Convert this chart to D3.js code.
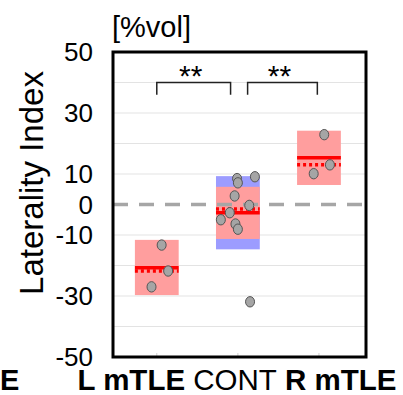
<!DOCTYPE html>
<html>
<head>
<meta charset="utf-8">
<script src="https://cdn.jsdelivr.net/npm/d3@7"></script>
<style>
  body { margin: 0; background: #fff; }
  text { font-family: "Liberation Sans", Arial, sans-serif; }
</style>
</head>
<body>
<svg id="chart"></svg>
<script>
// group names and label weights
const categories = ['L mTLE', 'CONT', 'R mTLE'];
const boldLabel = [true, false, true];

// individual laterality index values [%vol]
const lValues = [-13.3, -21.8, -27.0];
const contValues = [8.5, 7.1, 9.1, 2.8, -0.3, -2.7, -5.0, -6.4, -8.1, -31.9];
const rValues = [22.9, 13.0, 10.1];
// horizontal scatter of the dots, in category units
const lJitter = [0.06, 0.14, -0.065];
const contJitter = [-0.01, 0.0, 0.21, -0.04, 0.14, -0.10, -0.21, -0.03, 0.0, 0.15];
const rJitter = [0.065, 0.135, -0.065];

// shaded ranges
const redHigh = [-11.6, 5.8, 24.2];
const redLow = [-29.7, -11.3, 6.4];
const blueHigh = [null, 9.3, null];
const blueLow = [null, -14.7, null];

// y axis
const yTicks = [50, 30, 10, 0, -10, -30, -50];
const yGrid = [40, 30, 20, 10, -10, -20, -30, -40];

// significance brackets: [from, to]
const brackets = [[1, 1.91], [2.12, 2.98]];
const bracketLabels = ['**', '**'];

const W = 403, H = 395;
const margin = {top: 52, right: 37, bottom: 38, left: 113};

const svg = d3.select('#chart').attr('width', W).attr('height', H);

const x = d3.scaleLinear().domain([0.46, 3.58]).range([margin.left, W - margin.right]);
const y = d3.scaleLinear().domain([-50, 50]).range([H - margin.bottom, margin.top]);

const groups = [lValues, contValues, rValues].map((vals, i) => ({
    idx: i + 1,
    values: vals,
    jitter: [lJitter, contJitter, rJitter][i]
}));

const halfBox = 0.27;

// grid lines
svg.append('g').selectAll('line')
    .data(yGrid).enter().append('line')
    .attr('x1', x.range()[0]).attr('x2', x.range()[1])
    .attr('y1', d => y(d)).attr('y2', d => y(d))
    .attr('stroke', '#e3e3e3').attr('stroke-width', 1);

// small x ticks at the bottom
svg.append('g').selectAll('line')
    .data(groups).enter().append('line')
    .attr('x1', d => x(d.idx)).attr('x2', d => x(d.idx))
    .attr('y1', y(-50)).attr('y2', y(-50) - 4)
    .attr('stroke', '#d0d0d0');

// blue range
svg.append('g').selectAll('rect')
    .data(groups.filter((d, i) => blueHigh[i] !== null)).enter().append('rect')
    .attr('x', d => x(d.idx - halfBox))
    .attr('width', x(1 + halfBox) - x(1 - halfBox))
    .attr('y', d => y(blueHigh[d.idx - 1]))
    .attr('height', d => y(blueLow[d.idx - 1]) - y(blueHigh[d.idx - 1]))
    .attr('fill', '#9c9cff');

// red range
svg.append('g').selectAll('rect')
    .data(groups).enter().append('rect')
    .attr('x', d => x(d.idx - halfBox))
    .attr('width', x(1 + halfBox) - x(1 - halfBox))
    .attr('y', d => y(redHigh[d.idx - 1]))
    .attr('height', d => y(redLow[d.idx - 1]) - y(redHigh[d.idx - 1]))
    .attr('fill', '#ff9e9e');

// zero line
svg.append('line')
    .attr('x1', x.range()[0]).attr('x2', x.range()[1])
    .attr('y1', y(0)).attr('y2', y(0))
    .attr('stroke', '#a6a6a6').attr('stroke-width', 3.5)
    .attr('stroke-dasharray', '15,11');

// median (dotted) and mean (solid)
svg.append('g').selectAll('line')
    .data(groups).enter().append('line')
    .attr('x1', d => x(d.idx - halfBox)).attr('x2', d => x(d.idx + halfBox))
    .attr('y1', d => y(d3.median(d.values))).attr('y2', d => y(d3.median(d.values)))
    .attr('stroke', '#ff0000').attr('stroke-width', 3.5)
    .attr('stroke-dasharray', '3,3');

svg.append('g').selectAll('line')
    .data(groups).enter().append('line')
    .attr('x1', d => x(d.idx - halfBox)).attr('x2', d => x(d.idx + halfBox))
    .attr('y1', d => y(d3.mean(d.values))).attr('y2', d => y(d3.mean(d.values)))
    .attr('stroke', '#ff0000').attr('stroke-width', 3.5);

// dots
groups.forEach(g => {
    svg.append('g').selectAll('ellipse')
        .data(g.values).enter().append('ellipse')
        .attr('cx', (d, i) => x(g.idx + g.jitter[i]))
        .attr('cy', d => y(d))
        .attr('rx', 4.5).attr('ry', 5.2)
        .attr('fill', '#a5a5a5')
        .attr('stroke', '#555').attr('stroke-width', 1);
});

// frame
svg.append('rect')
    .attr('x', x.range()[0]).attr('y', y(50))
    .attr('width', x.range()[1] - x.range()[0])
    .attr('height', y(-50) - y(50))
    .attr('fill', 'none').attr('stroke', '#000').attr('stroke-width', 3);

// y tick labels
svg.append('g').selectAll('text')
    .data(yTicks).enter().append('text')
    .attr('x', 93).attr('y', d => y(d))
    .attr('dy', '0.36em')
    .attr('text-anchor', 'end')
    .style('font-size', '26px')
    .text(d => d);

// unit
svg.append('text')
    .attr('x', 112).attr('y', 37)
    .style('font-size', '29px')
    .text('[%vol]');

// y title
svg.append('text')
    .attr('transform', `translate(43, 183) rotate(-90)`)
    .attr('text-anchor', 'middle')
    .style('font-size', '33px')
    .text('Laterality Index');

// category labels
const xl = svg.append('text')
    .attr('x', 237).attr('y', 390)
    .attr('text-anchor', 'middle')
    .style('font-size', '29.5px');
categories.forEach((c, i) => {
    xl.append('tspan')
        .style('font-weight', boldLabel[i] ? 'bold' : 'normal')
        .text((i > 0 ? ' ' : '') + c);
});

// panel letter from the neighbouring panel
svg.append('text')
    .attr('x', 0).attr('y', 390)
    .style('font-size', '29px').style('font-weight', 'bold')
    .text('E');

// significance brackets
const bTop = y(40), bEnd = y(36);
svg.append('g').selectAll('path')
    .data(brackets).enter().append('path')
    .attr('d', d => `M${x(d[0])},${bEnd}V${bTop}H${x(d[1])}V${bEnd}`)
    .attr('fill', 'none').attr('stroke', '#222').attr('stroke-width', 1.5);

svg.append('g').selectAll('text')
    .data(brackets).enter().append('text')
    .attr('x', d => (x(d[0]) + x(d[1])) / 2 - 3)
    .attr('y', 86)
    .attr('text-anchor', 'middle')
    .style('font-size', '30px')
    .text((d, i) => bracketLabels[i]);
</script>
</body>
</html>
